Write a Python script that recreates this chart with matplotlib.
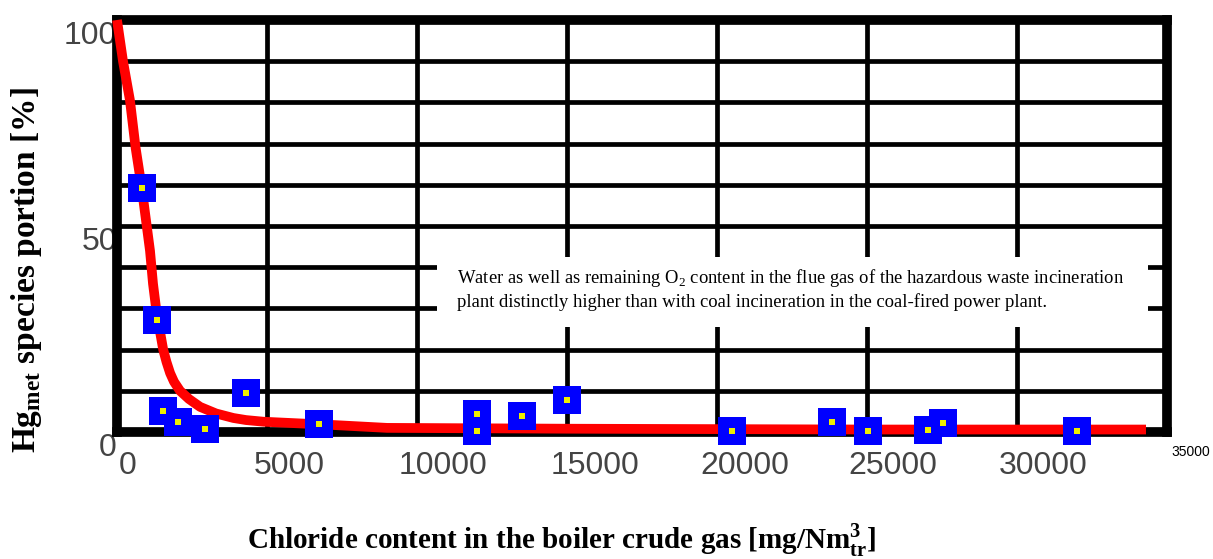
import matplotlib
matplotlib.use("Agg")
import matplotlib.pyplot as plt
import matplotlib.transforms as mtransforms
from matplotlib.patches import Rectangle

# measured points (chloride content, Hg_met portion)
chloride = [820, 1320, 1540, 2040, 2930, 4290, 6730, 12010, 12010, 13490,
            14990, 20490, 23820, 25020, 27020, 27540, 31990]
hg_met = [59.3, 27.2, 5.2, 2.5, 0.7, 9.4, 1.9, 4.3, 0.2, 3.9,
          7.8, 0.2, 2.4, 0.2, 0.4, 2.1, 0.2]

# fitted curve
curve_x = [0, 200, 430, 620, 820, 1100, 1200, 1320, 1540, 1650, 1770, 1900,
           2100, 2400, 2770, 3300, 3880, 4300, 4880, 7200, 9000, 15000,
           25000, 34300]
curve_y = [100, 90, 80.6, 69, 59.5, 44, 36, 29, 20, 17, 14.3, 12.2,
           10, 8, 6.1, 4.5, 3.4, 2.9, 2.5, 1.7, 1.0, 0.8,
           0.6, 0.6]

xticks = [0, 5000, 10000, 15000, 20000, 25000, 30000, 35000]
xtick_labels = ["0", "5000", "10000", "15000", "20000", "25000", "30000", "35000"]
yticks = [0, 50, 100]
ytick_labels = ["0", "50", "100"]

note_lines = [
    "Water as well as remaining O$_\\mathregular{2}$ content in the flue gas of the hazardous waste incineration",
    "plant distinctly higher than with coal incineration in the coal-fired power plant.",
]

plt.rcParams["mathtext.fontset"] = "custom"
plt.rcParams["mathtext.rm"] = "Liberation Serif"
plt.rcParams["mathtext.bf"] = "Liberation Serif:bold"

fig = plt.figure(figsize=(12.13, 5.59), dpi=100)
ax = fig.add_axes([117 / 1213, 1 - 432 / 559, 1050 / 1213, 412 / 559])
ax.set_xlim(0, 35000)
ax.set_ylim(0, 100)

# grid: every 5000 across, every 10 up
for gx in range(5000, 35000, 5000):
    ax.axvline(gx, color="black", linewidth=3.4, zorder=1.5)
for gy in range(10, 100, 10):
    ax.axhline(gy, color="black", linewidth=3.4, zorder=1.5)

for sp in ax.spines.values():
    sp.set_linewidth(7)
    sp.set_color("black")

ax.set_xticks(xticks)
ax.set_xticklabels(xtick_labels, fontsize=23, color="#444444",
                   fontfamily="Liberation Sans")
ax.set_yticks(yticks)
ax.set_yticklabels(ytick_labels, fontsize=23, color="#444444",
                   fontfamily="Liberation Sans")
ax.tick_params(which="both", length=0)
ax.tick_params(axis="x", pad=14)
ax.tick_params(axis="y", pad=0)

x_shift = [11, 22, 26, 28, 28, 26, 26, 24]
for lab, dx in zip(ax.get_xticklabels(), x_shift):
    lab.set_transform(lab.get_transform() +
                      mtransforms.ScaledTranslation(dx / 100, 0, fig.dpi_scale_trans))
xl = ax.get_xticklabels()
xl[-1].set_fontsize(10)
xl[-1].set_color("black")
xl[-1].set_transform(xl[-1].get_transform() +
                     mtransforms.ScaledTranslation(0, 0.06, fig.dpi_scale_trans))
for lab in ax.get_yticklabels():
    lab.set_transform(lab.get_transform() +
                      mtransforms.ScaledTranslation(0, -0.12, fig.dpi_scale_trans))

# note box
ax.add_patch(Rectangle((10650, 25.5), 23700, 17, facecolor="white",
                       edgecolor="none", zorder=1.8))
ax.text(11330, 37.4, note_lines[0], fontsize=13.4, fontfamily="Liberation Serif",
        va="center", zorder=3)
ax.text(11330, 31.6, note_lines[1], fontsize=13.4, fontfamily="Liberation Serif",
        va="center", zorder=3)

ax.plot(curve_x, curve_y, color="red", linewidth=7, zorder=3, clip_on=False,
        solid_capstyle="butt", solid_joinstyle="round")
ax.plot(chloride, hg_met, "s", color="#0000ff", markersize=19.5, mew=0,
        zorder=4, clip_on=False)
ax.plot(chloride, hg_met, "s", color="#eeee00", markersize=4, mew=0,
        zorder=5, clip_on=False)

fig.text(562 / 1213, 1 - 540 / 559,
         "Chloride content in the boiler crude gas [mg/Nm$^\\mathbf{3}_\\mathbf{tr}$]",
         fontsize=21, fontweight="bold", fontfamily="Liberation Serif",
         ha="center", va="center")
fig.text(27 / 1213, 1 - 270 / 559,
         "Hg$_\\mathbf{met}$ species portion [%]",
         fontsize=24, fontweight="bold", fontfamily="Liberation Serif",
         ha="center", va="center", rotation=90)

fig.savefig("out.png", dpi=100)
